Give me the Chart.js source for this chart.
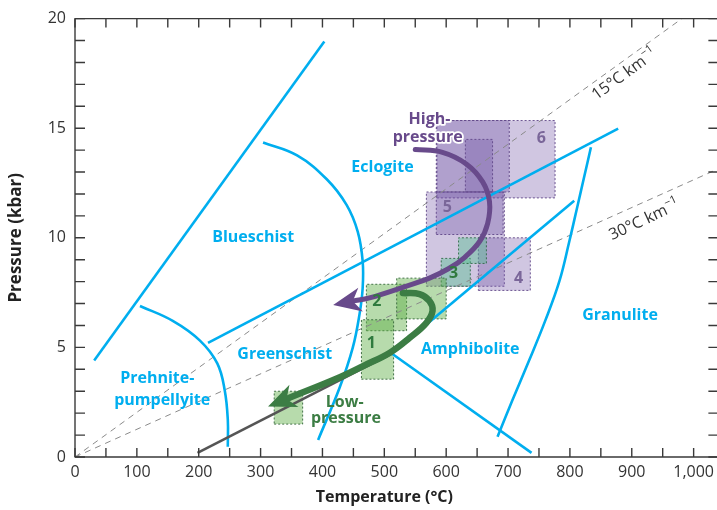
<!DOCTYPE html>
<html>
<head>
<meta charset="utf-8">
<script src="https://cdn.jsdelivr.net/npm/chart.js@4/dist/chart.umd.min.js"></script>
<style>
  html, body { margin: 0; padding: 0; background: #fff; overflow: hidden; }
  #wrap { position: relative; width: 720px; height: 510px; }
</style>
</head>
<body>
<div id="wrap"><canvas id="facies"></canvas></div>
<script>
// tick labels
const tempTicks = [0, 100, 200, 300, 400, 500, 600, 700, 800, 900, 1000];
const pressTicks = [0, 5, 10, 15, 20];

// all points are [temperature in C, pressure in kbar]
const blueschistLeft = [[31, 4.4], [403, 18.96]];
const prehniteArc = [[105, 6.89], [158, 6.21], [202, 5.31], [230, 4.27], [242, 3.05], [247, 1.7], [247, 0.47]];
const blueschistArc = [[304, 14.35], [359, 13.76], [407, 12.67], [439, 11.5], [457, 10.28], [465, 8.93],
  [465, 7.71], [460, 6.53], [449, 4.99], [428, 3.18], [393, 0.78]];
const eclogiteLine = [[215, 5.21], [878, 14.98]];
const amphiboliteTop = [[512, 4.72], [807, 11.69]];
const amphiboliteBase = [[512, 4.72], [738, 0.19]];
const granuliteArc = [[834, 14.13], [823, 12.77], [812, 11.42], [799, 9.83], [783, 8.02], [760, 6.21],
  [734, 4.4], [707, 2.59], [683, 0.92]];
const reactionLine = [[198, 0.19], [512, 4.72]];
const geotherm15 = [[0, 0], [981, 20]];
const geotherm30 = [[0, 0], [1040, 13.15]];

// P-T paths
const highPath = [[550, 14.03], [594, 13.9], [633, 13.36], [659, 12.55], [670, 11.65], [667, 10.65], [654, 9.83],
  [630, 9.11], [605, 8.61], [573, 8.16], [536, 7.8], [476, 7.26], [449, 7.11]];
const lowPath = [[530, 7.48], [557, 7.43], [573, 7.12], [578, 6.67], [568, 6.12], [541, 5.44], [509, 4.76],
  [468, 4.18], [428, 3.64], [342, 2.65]];

// estimate boxes: [Tmin, Tmax, Pmin, Pmax]
const hpBoxes = [[585, 776, 11.82, 15.35], [584, 702, 12.09, 15.35], [631, 675, 12.09, 14.49],
  [568, 694, 7.79, 12.09], [584, 692, 10.15, 12.09], [652, 736, 7.6, 10.0]];
const midBoxes = [[592, 639, 7.79, 9.06], [620, 665, 8.83, 10.0]];
const lpBoxes = [[471, 536, 5.76, 7.88], [520, 600, 6.3, 8.16], [463, 515, 3.55, 6.26], [322, 368, 1.5, 3.0]];

const faciesNames = [['Eclogite', 497, 13.22], ['Blueschist', 288, 10.0], ['Greenschist', 339, 4.68],
  ['Prehnite-', 133, 3.59], ['pumpellyite', 141, 2.59], ['Amphibolite', 639, 4.9], ['Granulite', 881, 6.48]];
const highNames = [['High-', 573, 15.39], ['pressure', 570, 14.58]];
const lowNames = [['Low-', 436, 2.5], ['pressure', 438, 1.78]];
const lowIds = [['1', 479, 5.17], ['2', 488, 7.11], ['3', 612, 8.38]];
const highIds = [['4', 717, 8.15], ['5', 602, 11.37], ['6', 754, 14.53]];
const gradientNames = [['15°C km', '−1', 888, 17.45, -36], ['30°C km', '−1', 920, 10.8, -25]];

const BLUE = '#00aeef';
const PURPLE = '#684a8b';
const GREEN = '#3c7d44';
const FAMILY = "'Open Sans', sans-serif";

function lineSet(points, color, width, extra) {
  return Object.assign({
    data: points.map(([x, y]) => ({ x, y })),
    showLine: true,
    borderColor: color,
    borderWidth: width,
    pointRadius: 0,
    fill: false,
    tension: 0,
  }, extra || {});
}

function boxSet([t0, t1, p0, p1], fillColor, edgeColor) {
  return {
    data: [{ x: t0, y: p0 }, { x: t1, y: p0 }, { x: t1, y: p1 }, { x: t0, y: p1 }, { x: t0, y: p0 }],
    showLine: true,
    borderColor: edgeColor,
    borderWidth: 1,
    borderDash: [2, 2],
    backgroundColor: fillColor,
    fill: 'shape',
    pointRadius: 0,
    tension: 0,
  };
}

// bottom to top
const datasets = [];
hpBoxes.forEach((b) => datasets.push(boxSet(b, 'rgba(112, 82, 165, 0.33)', 'rgba(95, 70, 135, 0.9)')));
midBoxes.forEach((b) => datasets.push(boxSet(b, 'rgba(80, 190, 140, 0.42)', 'rgba(45, 105, 70, 0.9)')));
lpBoxes.forEach((b) => datasets.push(boxSet(b, 'rgba(95, 175, 70, 0.45)', 'rgba(50, 100, 55, 0.9)')));
datasets.push(lineSet(geotherm15, '#8a8a8a', 1, { borderDash: [6, 5] }));
datasets.push(lineSet(geotherm30, '#8a8a8a', 1, { borderDash: [6, 5] }));
[blueschistLeft, eclogiteLine, amphiboliteTop, amphiboliteBase].forEach((l) => datasets.push(lineSet(l, BLUE, 2.6)));
[prehniteArc, blueschistArc, granuliteArc].forEach((l) => datasets.push(lineSet(l, BLUE, 2.6, { tension: 0.4 })));
datasets.push(lineSet(reactionLine, '#555555', 2.6));
datasets.push(lineSet(lowPath, GREEN, 6.5, { tension: 0.4, borderCapStyle: 'round', arrowColor: GREEN }));
datasets.push(lineSet(highPath, PURPLE, 5, { tension: 0.4, borderCapStyle: 'round', arrowColor: PURPLE }));
datasets.forEach((d, i) => { d.order = datasets.length - i; });

// arrow heads at the end of the P-T paths
const arrowHeads = {
  id: 'arrowHeads',
  afterDatasetsDraw(chart) {
    const { ctx } = chart;
    chart.data.datasets.forEach((ds, i) => {
      if (!ds.arrowColor) return;
      const pts = chart.getDatasetMeta(i).data;
      const a = pts[pts.length - 2], b = pts[pts.length - 1];
      const len = Math.hypot(b.x - a.x, b.y - a.y);
      const ux = (b.x - a.x) / len, uy = (b.y - a.y) / len;
      const nx = -uy, ny = ux;
      const L = 28, W = 12, N = 8;
      const tx = b.x + ux * (L - N), ty = b.y + uy * (L - N);
      ctx.save();
      ctx.fillStyle = ds.arrowColor;
      ctx.beginPath();
      ctx.moveTo(tx, ty);
      ctx.lineTo(tx - ux * L + nx * W, ty - uy * L + ny * W);
      ctx.lineTo(b.x, b.y);
      ctx.lineTo(tx - ux * L - nx * W, ty - uy * L - ny * W);
      ctx.closePath();
      ctx.fill();
      ctx.restore();
    });
  },
};

function putText(ctx, chart, list, color, font, halo) {
  const { x, y } = chart.scales;
  ctx.font = font;
  ctx.textAlign = 'center';
  ctx.textBaseline = 'middle';
  list.forEach(([txt, t, p]) => {
    const px = x.getPixelForValue(t), py = y.getPixelForValue(p);
    if (halo) {
      ctx.strokeStyle = '#fff';
      ctx.lineWidth = 3.5;
      ctx.lineJoin = 'round';
      ctx.strokeText(txt, px, py);
    }
    ctx.fillStyle = color;
    ctx.fillText(txt, px, py);
  });
}

const annotations = {
  id: 'annotations',
  afterDraw(chart) {
    const { ctx, chartArea: area, scales: { x, y } } = chart;
    ctx.save();
    putText(ctx, chart, faciesNames, BLUE, `bold 16px ${FAMILY}`);
    putText(ctx, chart, highNames, PURPLE, `bold 16px ${FAMILY}`, true);
    putText(ctx, chart, lowNames, GREEN, `bold 16px ${FAMILY}`);
    putText(ctx, chart, lowIds, '#2f7a3e', `bold 16px ${FAMILY}`);
    putText(ctx, chart, highIds, '#7a6699', `bold 16px ${FAMILY}`);

    // geotherm labels with superscript
    gradientNames.forEach(([main, sup, t, p, angle]) => {
      ctx.save();
      ctx.translate(x.getPixelForValue(t), y.getPixelForValue(p));
      ctx.rotate(angle * Math.PI / 180);
      ctx.font = `16px ${FAMILY}`;
      const w1 = ctx.measureText(main).width;
      ctx.font = `11px ${FAMILY}`;
      const w2 = ctx.measureText(sup).width;
      const start = -(w1 + w2) / 2;
      ctx.fillStyle = '#333';
      ctx.textAlign = 'left';
      ctx.textBaseline = 'middle';
      ctx.font = `16px ${FAMILY}`;
      ctx.fillText(main, start, 0);
      ctx.font = `11px ${FAMILY}`;
      ctx.fillText(sup, start + w1 + 0.5, -6);
      ctx.restore();
    });

    // frame with inward ticks
    ctx.strokeStyle = '#3a3a3a';
    ctx.lineWidth = 1.4;
    ctx.strokeRect(area.left, area.top, area.right - area.left, area.bottom - area.top);
    ctx.beginPath();
    for (let t = 0; t <= 1000; t += 50) {
      const px = x.getPixelForValue(t);
      ctx.moveTo(px, area.bottom); ctx.lineTo(px, area.bottom - 9);
      ctx.moveTo(px, area.top); ctx.lineTo(px, area.top + 9);
    }
    for (let p = 0; p <= 20; p += 1) {
      const py = y.getPixelForValue(p);
      ctx.moveTo(area.left, py); ctx.lineTo(area.left + 10, py);
      ctx.moveTo(area.right, py); ctx.lineTo(area.right - 10, py);
    }
    ctx.stroke();

    // x axis title centred under 500 C
    ctx.fillStyle = '#222';
    ctx.font = `bold 16px ${FAMILY}`;
    ctx.textAlign = 'center';
    ctx.textBaseline = 'middle';
    ctx.fillText('Temperature (°C)', x.getPixelForValue(500), 497);
    ctx.restore();
  },
};

const tickFont = { family: FAMILY, size: 16 };

new Chart(document.getElementById('facies'), {
  type: 'scatter',
  data: { datasets },
  options: {
    responsive: true,
    maintainAspectRatio: false,
    animation: false,
    layout: { padding: { top: 15, right: 0, bottom: 0, left: 0 } },
    plugins: { legend: { display: false }, tooltip: { enabled: false } },
    scales: {
      x: {
        type: 'linear',
        min: 0,
        max: 1040,
        grid: { display: false, drawTicks: false },
        border: { display: false },
        afterBuildTicks: (s) => { s.ticks = tempTicks.map((v) => ({ value: v })); },
        ticks: {
          autoSkip: false,
          maxRotation: 0,
          padding: 6,
          color: '#333',
          font: tickFont,
          callback: (v) => v.toLocaleString('en-US'),
        },
        afterFit: (s) => { s.height = 53; },
      },
      y: {
        type: 'linear',
        min: 0,
        max: 20,
        grid: { display: false, drawTicks: false },
        border: { display: false },
        afterBuildTicks: (s) => { s.ticks = pressTicks.map((v) => ({ value: v })); },
        ticks: { padding: 9, color: '#333', font: tickFont },
        title: {
          display: true,
          text: 'Pressure (kbar)',
          color: '#222',
          font: { family: FAMILY, size: 17, weight: 'bold' },
          padding: { top: 6, bottom: 0 },
        },
        afterFit: (s) => { s.width = 75; },
      },
    },
  },
  plugins: [arrowHeads, annotations],
});
</script>
</body>
</html>
